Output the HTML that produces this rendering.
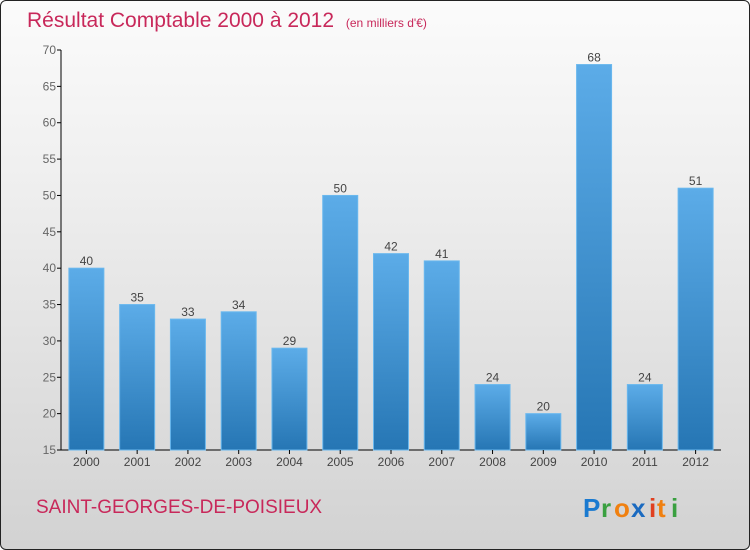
<!DOCTYPE html>
<html><head><meta charset="utf-8"><style>
html,body{margin:0;padding:0;}
body{width:750px;height:550px;overflow:hidden;font-family:"Liberation Sans",sans-serif;}
#frame{position:absolute;left:0;top:0;width:748px;height:548px;border:1px solid #222;border-radius:6px;background:linear-gradient(#fbfbfb,#f0f0f0 30%,#d2d2d2);}
</style></head><body>
<div id="frame"></div>
<svg id="chart" width="750" height="550" style="position:absolute;left:0;top:0">
<defs><linearGradient id="bg" x1="0" y1="0" x2="0" y2="1"><stop offset="0" stop-color="#5cacE8"/><stop offset="1" stop-color="#2676b4"/></linearGradient></defs>
<text x="27" y="27" font-size="21" fill="#c8285a">Résultat Comptable 2000 à 2012 <tspan font-size="12" dx="6">(en milliers d'€)</tspan></text>
<text x="36" y="513" font-size="19" fill="#c8285a">SAINT-GEORGES-DE-POISIEUX</text>
<g font-size="26" font-family="'Liberation Sans',sans-serif" font-weight="bold">
<text x="583" y="517" fill="#1a7ad0">P</text><text x="601" y="517" fill="#3aa040">r</text><text x="614" y="517" fill="#f08010">o</text><text x="631" y="517" fill="#1a6ac0">x</text><text x="649" y="517" fill="#e04020">i</text><text x="657" y="517" fill="#f08010">t</text><text x="671" y="517" fill="#3aa040">i</text>
</g>
<g id="plot"></g>
</svg>
<script>
const years=["2000","2001","2002","2003","2004","2005","2006","2007","2008","2009","2010","2011","2012"];
const values=[40,35,33,34,29,50,42,41,24,20,68,24,51];
const yTicks=[15,20,25,30,35,40,45,50,55,60,65,70];
const NS="http://www.w3.org/2000/svg";
const g=document.getElementById('plot');
const x0=61,x1=721,yTop=50,yBot=450,vMin=15,vMax=70;
const y=v=>yBot-(v-vMin)/(vMax-vMin)*(yBot-yTop);
const step=(x1-x0)/years.length;
const xc=i=>x0+step*(i+0.5);
function el(t,a,p){const e=document.createElementNS(NS,t);for(const k in a)e.setAttribute(k,a[k]);(p||g).appendChild(e);return e;}
const ax=el('line',{x1:x0,y1:yTop,x2:x0,y2:yBot,stroke:'#000'});


const bx=el('line',{x1:x0,y1:yBot,x2:x1,y2:yBot,stroke:'#000'});


yTicks.forEach(t=>{
 el('line',{x1:x0-4,y1:y(t),x2:x0,y2:y(t),stroke:'#000'});
 const tx=el('text',{x:x0-5,y:y(t)+4,'text-anchor':'end','font-size':12,fill:'#666'});
 tx.textContent=t;
 
 
});
values.forEach((v,i)=>{
 const r=el('rect',{x:xc(i)-17.5,y:y(v),width:35,height:yBot-y(v),fill:'url(#bg)',stroke:'#6ab8ee','stroke-width':1});
 
 
 const vl=el('text',{x:xc(i),y:y(v)-3,'text-anchor':'middle','font-size':12,fill:'#444'});
 vl.textContent=v;
 
 
 el('line',{x1:xc(i),y1:yBot,x2:xc(i),y2:yBot+4,stroke:'#000'});
 const xl=el('text',{x:xc(i),y:466,'text-anchor':'middle','font-size':12,fill:'#444'});
 xl.textContent=years[i];
 
 
});
</script>
</body></html>
